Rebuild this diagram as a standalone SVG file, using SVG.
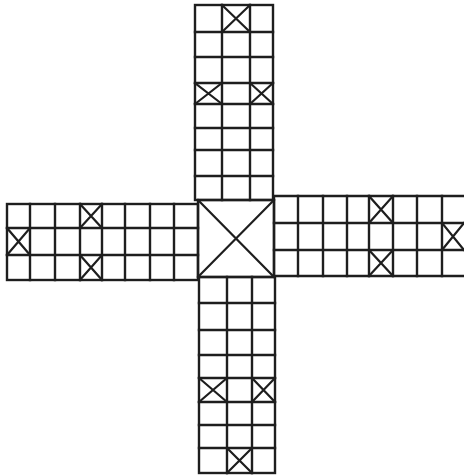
<svg xmlns="http://www.w3.org/2000/svg" width="464" height="475" viewBox="0 0 464 475">
<style>
.g{fill:none;stroke:#1e1e1e;stroke-width:2.4;stroke-linecap:square}
.x{fill:none;stroke:#1e1e1e;stroke-width:2.2}
</style>
<rect width="464" height="475" fill="#fff"/>
<g id="top-arm" class="g">
<rect x="195" y="5" width="78" height="195"/>
<path d="M222 5V200M250 5V200M195 32H273M195 57H273M195 83H273M195 104H273M195 128H273M195 150H273M195 176H273"/>
<path class="x" d="M222 5L250 32M250 5L222 32M195 83L222 104M222 83L195 104M250 83L273 104M273 83L250 104"/>
</g>
<g id="bottom-arm" class="g">
<rect x="199" y="277" width="76" height="196"/>
<path d="M227 277V473M252 277V473M199 303H275M199 330H275M199 355H275M199 378H275M199 402H275M199 425H275M199 448H275"/>
<path class="x" d="M199 378L227 402M227 378L199 402M252 378L275 402M275 378L252 402M227 448L252 473M252 448L227 473"/>
</g>
<g id="left-arm" class="g">
<rect x="7" y="204" width="191" height="76"/>
<path d="M30 204V280M55 204V280M80 204V280M102 204V280M125 204V280M150 204V280M174 204V280M7 228H198M7 255H198"/>
<path class="x" d="M80 204L102 228M102 204L80 228M7 228L30 255M30 228L7 255M80 255L102 280M102 255L80 280"/>
</g>
<g id="right-arm" class="g">
<path d="M464 196H274V276H464"/>
<path d="M298 196V276M323 196V276M347 196V276M369 196V276M393 196V276M417 196V276M442 196V276M274 223H464M274 250H464"/>
<path class="x" d="M369 196L393 223M393 196L369 223M442 223L464 250M464 223L442 250M369 250L393 276M393 250L369 276"/>
</g>
<g id="center" class="g">
<rect x="198" y="200" width="76" height="77"/>
<path class="x" d="M198 200L274 277M274 200L198 277"/>
</g>
</svg>
